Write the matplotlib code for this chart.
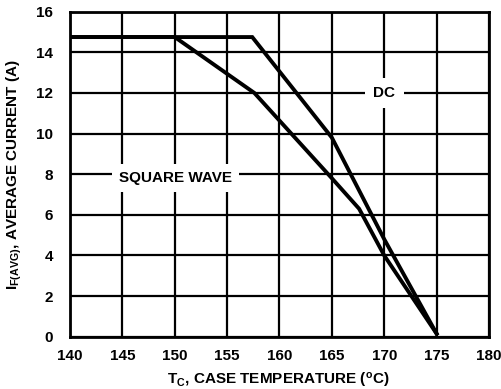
import matplotlib
matplotlib.use("Agg")
import matplotlib.pyplot as plt

plt.rcParams['font.family'] = ['Liberation Sans', 'DejaVu Sans']
plt.rcParams['mathtext.fontset'] = 'custom'
plt.rcParams['mathtext.rm'] = 'Liberation Sans:bold'
plt.rcParams['mathtext.bf'] = 'Liberation Sans:bold'
plt.rcParams['mathtext.it'] = 'Liberation Sans:bold'

# Data
dc_temp = [140, 157.4, 165, 170, 175]
dc_current = [14.75, 14.75, 9.8, 4.8, 0.15]
sq_temp = [140, 150, 157.6, 165, 167.6, 170, 175]
sq_current = [14.75, 14.75, 12.0, 7.8, 6.3, 4.0, 0.15]

x_ticks = [140, 145, 150, 155, 160, 165, 170, 175, 180]
y_ticks = [0, 2, 4, 6, 8, 10, 12, 14, 16]

fig = plt.figure(figsize=(5.01, 3.89), dpi=100)
ax = fig.add_axes([0.1397, 0.1344, 0.976 - 0.1397, 0.970 - 0.1344])

ax.set_xlim(140, 180)
ax.set_ylim(0, 16)
ax.set_xticks(x_ticks)
ax.set_yticks(y_ticks)
ax.set_xticklabels([str(v) for v in x_ticks], fontsize=11, fontweight='bold')
ax.set_yticklabels([str(v) for v in y_ticks], fontsize=11, fontweight='bold')
ax.tick_params(axis='x', length=0, pad=9)
ax.tick_params(axis='y', length=0, pad=12)
ax.grid(True, color='black', linewidth=1.6)
ax.set_axisbelow(True)
for s in ax.spines.values():
    s.set_linewidth(2)

ax.plot(dc_temp, dc_current, color='black', linewidth=2.8, solid_joinstyle='miter', zorder=5)
ax.plot(sq_temp, sq_current, color='black', linewidth=2.8, solid_joinstyle='miter', zorder=5)

ax.text(170, 12, 'DC', ha='center', va='center', fontsize=11, fontweight='bold',
        bbox=dict(facecolor='white', edgecolor='none', pad=6), zorder=4)
ax.text(150.1, 7.8, 'SQUARE WAVE', ha='center', va='center', fontsize=11, fontweight='bold',
        bbox=dict(facecolor='white', edgecolor='none', pad=5), zorder=4)

fig.text(0.556, 4.0 / 389, r'T$_\mathregular{C}$, CASE TEMPERATURE ($^\mathregular{o}$C)',
         fontsize=11, fontweight='bold', ha='center', va='baseline')
ax.set_ylabel(r'I$_\mathregular{F(AVG)}$, AVERAGE CURRENT (A)', fontsize=11,
              fontweight='bold', labelpad=9)

fig.savefig('out.png', dpi=100)
